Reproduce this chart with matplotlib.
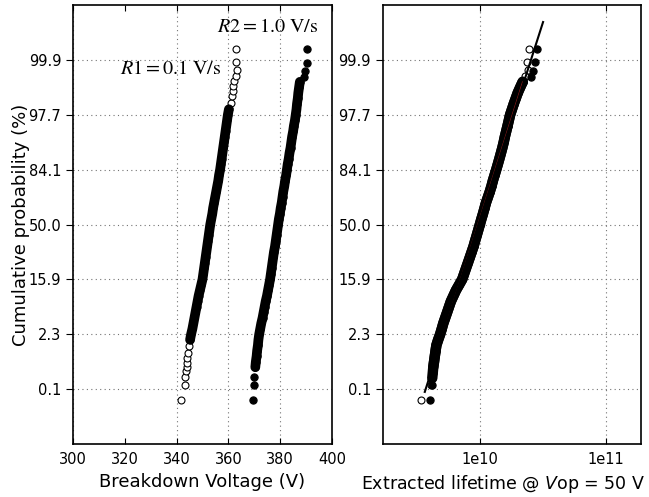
import matplotlib
matplotlib.use('Agg')
import matplotlib.pyplot as plt
import numpy as np

# y positions are normal quantiles (sigma) of the cumulative probability
prob_ticks = [-3, -2, -1, 0, 1, 2, 3]
prob_labels = ['0.1', '2.3', '15.9', '50.0', '84.1', '97.7', '99.9']

# R1 = 0.1 V/s breakdown voltages (V)
r1_z = [-3.19, -2.93, -2.78, -2.67, -2.59, -2.52, -2.44, -2.35, -2.22,
        -2.1, -2.0, -1.9, -1.8, -1.7, -1.6, -1.5, -1.4, -1.3, -1.2, -1.1,
        -1.0, -0.9, -0.8, -0.7, -0.6, -0.5, -0.4, -0.3, -0.2, -0.1,
        0.0, 0.1, 0.2, 0.3, 0.4, 0.5, 0.6, 0.7, 0.8, 0.9,
        1.0, 1.1, 1.2, 1.3, 1.4, 1.5, 1.6, 1.7, 1.8, 1.9, 2.0, 2.1,
        2.22, 2.35, 2.44, 2.53, 2.62, 2.71, 2.82, 2.96, 3.20]
r1_volt = [341.6, 343.2, 343.2, 343.6, 343.9, 343.9, 344.1, 344.5, 344.9,
           345.2, 345.6, 346.1, 346.5, 346.9, 347.3, 347.7, 348.1, 348.5, 349.0, 349.5,
           350.0, 350.3, 350.6, 350.9, 351.2, 351.5, 351.8, 352.1, 352.4, 352.7,
           353.0, 353.4, 353.8, 354.1, 354.5, 354.9, 355.3, 355.7, 356.1, 356.4,
           356.8, 357.1, 357.4, 357.7, 358.0, 358.3, 358.6, 358.9, 359.2, 359.5, 359.8, 360.2,
           360.9, 361.3, 361.7, 361.9, 362.2, 362.9, 363.2, 362.9, 362.9]

# R2 = 1.0 V/s breakdown voltages (V)
r2_z = [-3.19, -2.93, -2.78,
        -2.6, -2.5, -2.4, -2.3, -2.2, -2.1, -2.0, -1.9, -1.8, -1.7, -1.6, -1.5,
        -1.4, -1.3, -1.2, -1.1, -1.0, -0.9, -0.8, -0.7, -0.6, -0.5, -0.4, -0.3,
        -0.2, -0.1, 0.0, 0.1, 0.2, 0.3, 0.4, 0.5, 0.6, 0.7, 0.8, 0.9, 1.0,
        1.1, 1.2, 1.3, 1.4, 1.5, 1.6, 1.7, 1.8, 1.9, 2.0, 2.1, 2.2, 2.3, 2.4,
        2.5, 2.6, 2.68, 2.80, 2.94, 3.20]
r2_volt = [369.4, 369.9, 369.9,
           370.4, 370.6, 370.9, 371.1, 371.4, 371.6, 371.9, 372.3, 372.7, 373.2, 373.6, 374.0,
           374.4, 374.9, 375.3, 375.7, 376.1, 376.4, 376.7, 377.0, 377.3, 377.6, 378.0, 378.3,
           378.6, 378.9, 379.2, 379.5, 379.9, 380.2, 380.6, 380.9, 381.2, 381.6, 381.9, 382.3, 382.6,
           382.9, 383.3, 383.6, 384.0, 384.3, 384.6, 385.0, 385.3, 385.7, 386.0, 386.3, 386.5, 386.8, 387.0,
           387.3, 387.6, 389.2, 389.6, 390.2, 390.5]

# extracted lifetime at Vop = 50 V, R1 (open)
life1_z = [-3.19, -2.93, -2.6, -2.4, -2.2, -2.0, -1.8, -1.6, -1.4, -1.2, -1.0,
           -0.8, -0.6, -0.4, -0.2, 0.0, 0.2, 0.4, 0.6, 0.8, 1.0, 1.2, 1.4,
           1.6, 1.8, 2.0, 2.2, 2.4, 2.6, 2.71, 2.82, 2.96, 3.20]
life1 = [3.38e9, 4.10e9, 4.27e9, 4.39e9, 4.52e9, 4.84e9, 5.13e9, 5.50e9, 5.89e9, 6.46e9, 7.24e9,
         7.76e9, 8.32e9, 8.91e9, 9.44e9, 1.00e10, 1.06e10, 1.12e10, 1.20e10, 1.27e10, 1.35e10,
         1.43e10, 1.51e10, 1.58e10, 1.66e10, 1.74e10, 1.86e10, 2.00e10, 2.19e10,
         2.29e10, 2.40e10, 2.37e10, 2.46e10]

# extracted lifetime at Vop = 50 V, R2 (filled)
life2_z = [-3.19, -2.93,
           -2.8, -2.7, -2.6, -2.5, -2.4, -2.3, -2.2, -2.1, -2.0, -1.9, -1.8, -1.7,
           -1.6, -1.5, -1.4, -1.3, -1.2, -1.1, -1.0, -0.9, -0.8, -0.7, -0.6, -0.5,
           -0.4, -0.3, -0.2, -0.1, 0.0, 0.1, 0.2, 0.3, 0.4, 0.5, 0.6, 0.7, 0.8,
           0.9, 1.0, 1.1, 1.2, 1.3, 1.4, 1.5, 1.6, 1.7, 1.8, 1.9, 2.0, 2.1, 2.2,
           2.3, 2.4, 2.5, 2.6, 2.68, 2.80, 2.96, 3.20]
life2 = [4.01e9, 4.14e9,
         4.19e9, 4.23e9, 4.27e9, 4.33e9, 4.39e9, 4.45e9, 4.52e9, 4.66e9, 4.84e9, 4.99e9, 5.13e9, 5.31e9,
         5.50e9, 5.69e9, 5.89e9, 6.17e9, 6.46e9, 6.84e9, 7.24e9, 7.50e9, 7.76e9, 8.04e9, 8.32e9, 8.61e9,
         8.91e9, 9.16e9, 9.44e9, 9.72e9, 1.00e10, 1.028e10, 1.06e10, 1.09e10, 1.12e10, 1.16e10, 1.20e10,
         1.24e10, 1.27e10, 1.31e10, 1.35e10, 1.39e10, 1.43e10, 1.47e10, 1.51e10, 1.55e10, 1.58e10,
         1.62e10, 1.66e10, 1.70e10, 1.74e10, 1.80e10, 1.86e10, 1.93e10, 2.00e10, 2.09e10, 2.19e10,
         2.57e10, 2.62e10, 2.74e10, 2.83e10]

fit_z = [-3.05, 3.69]

fig = plt.figure(figsize=(6.49, 4.97), dpi=100)
ax1 = fig.add_axes([0.1125, 0.1066, 0.399, 0.8833])
ax2 = fig.add_axes([0.590, 0.1066, 0.3975, 0.8833])

open_style = dict(ls='none', marker='o', mfc='white', mec='black', ms=5.0, mew=0.8)
fill_style = dict(ls='none', marker='o', mfc='black', mec='black', ms=5.2, mew=0.8)


def probplot(ax, x, z, style, zlo, zhi, lw):
    # several hundred points overlap into a solid black band between zlo and zhi
    x = np.asarray(x)
    z = np.asarray(z)
    ax.plot(x, z, **style)
    m = (z >= zlo) & (z <= zhi)
    ax.plot(x[m], z[m], color='black', lw=lw, solid_capstyle='round',
            solid_joinstyle='round')


probplot(ax1, r1_volt, r1_z, open_style, -2.1, 2.1, 7)
probplot(ax1, r2_volt, r2_z, fill_style, -2.6, 2.6, 7)
ax1.text(318.1, 2.74, r'$R1 = 0.1\ \mathrm{V/s}$', fontsize=14.5, math_fontfamily='stix')
ax1.text(355.6, 3.51, r'$R2 = 1.0\ \mathrm{V/s}$', fontsize=14.5, math_fontfamily='stix')

probplot(ax2, life1, life1_z, open_style, -2.6, 2.6, 7.5)
probplot(ax2, life2, life2_z, fill_style, -2.8, 2.6, 7.5)

# least squares lines in log(lifetime) vs sigma
b1, a1 = np.polyfit(life1_z, np.log10(life1), 1)
b2, a2 = np.polyfit(life2_z, np.log10(life2), 1)
zz = np.array([-2.6, 2.6])
ax2.plot(10 ** (a1 + b1 * zz), zz, color='#8b1a1a', lw=0.6)
zf = np.array(fit_z)
ax2.plot(10 ** (a2 + b2 * zf), zf, color='black', lw=1.5)

ax2.set_xscale('log')
ax2.set_xlim(1.7e9, 1.9e11)
ax2.set_xticks([1e10, 1e11])
ax2.set_xticklabels(['1e10', '1e11'])
ax2.xaxis.set_minor_locator(matplotlib.ticker.NullLocator())

ax1.set_xlim(300, 400)
ax1.set_xticks([300, 320, 340, 360, 380, 400])

for ax in (ax1, ax2):
    ax.set_ylim(-4, 4)
    ax.set_yticks(prob_ticks)
    ax.set_yticklabels(prob_labels)
    ax.grid(True, linestyle=(0, (1, 3)), color='0.45', lw=0.8)
    ax.tick_params(axis='x', direction='in', top=True, bottom=True, length=4, labelsize=10.5, pad=6)
    ax.tick_params(axis='y', direction='out', left=True, right=False, length=5, labelsize=10.5)
    for s in ax.spines.values():
        s.set_linewidth(1.2)

ax1.get_xgridlines()[1].set_visible(False)

ax1.set_xlabel('Breakdown Voltage (V)', fontsize=13)
ax1.set_ylabel('Cumulative probability (%)', fontsize=13, labelpad=-1)
ax2.set_xlabel('Extracted lifetime @ $V$op = 50 V', fontsize=12.5)
ax2.xaxis.set_label_coords(0.467, -0.065)

fig.savefig('out.png', dpi=100)
